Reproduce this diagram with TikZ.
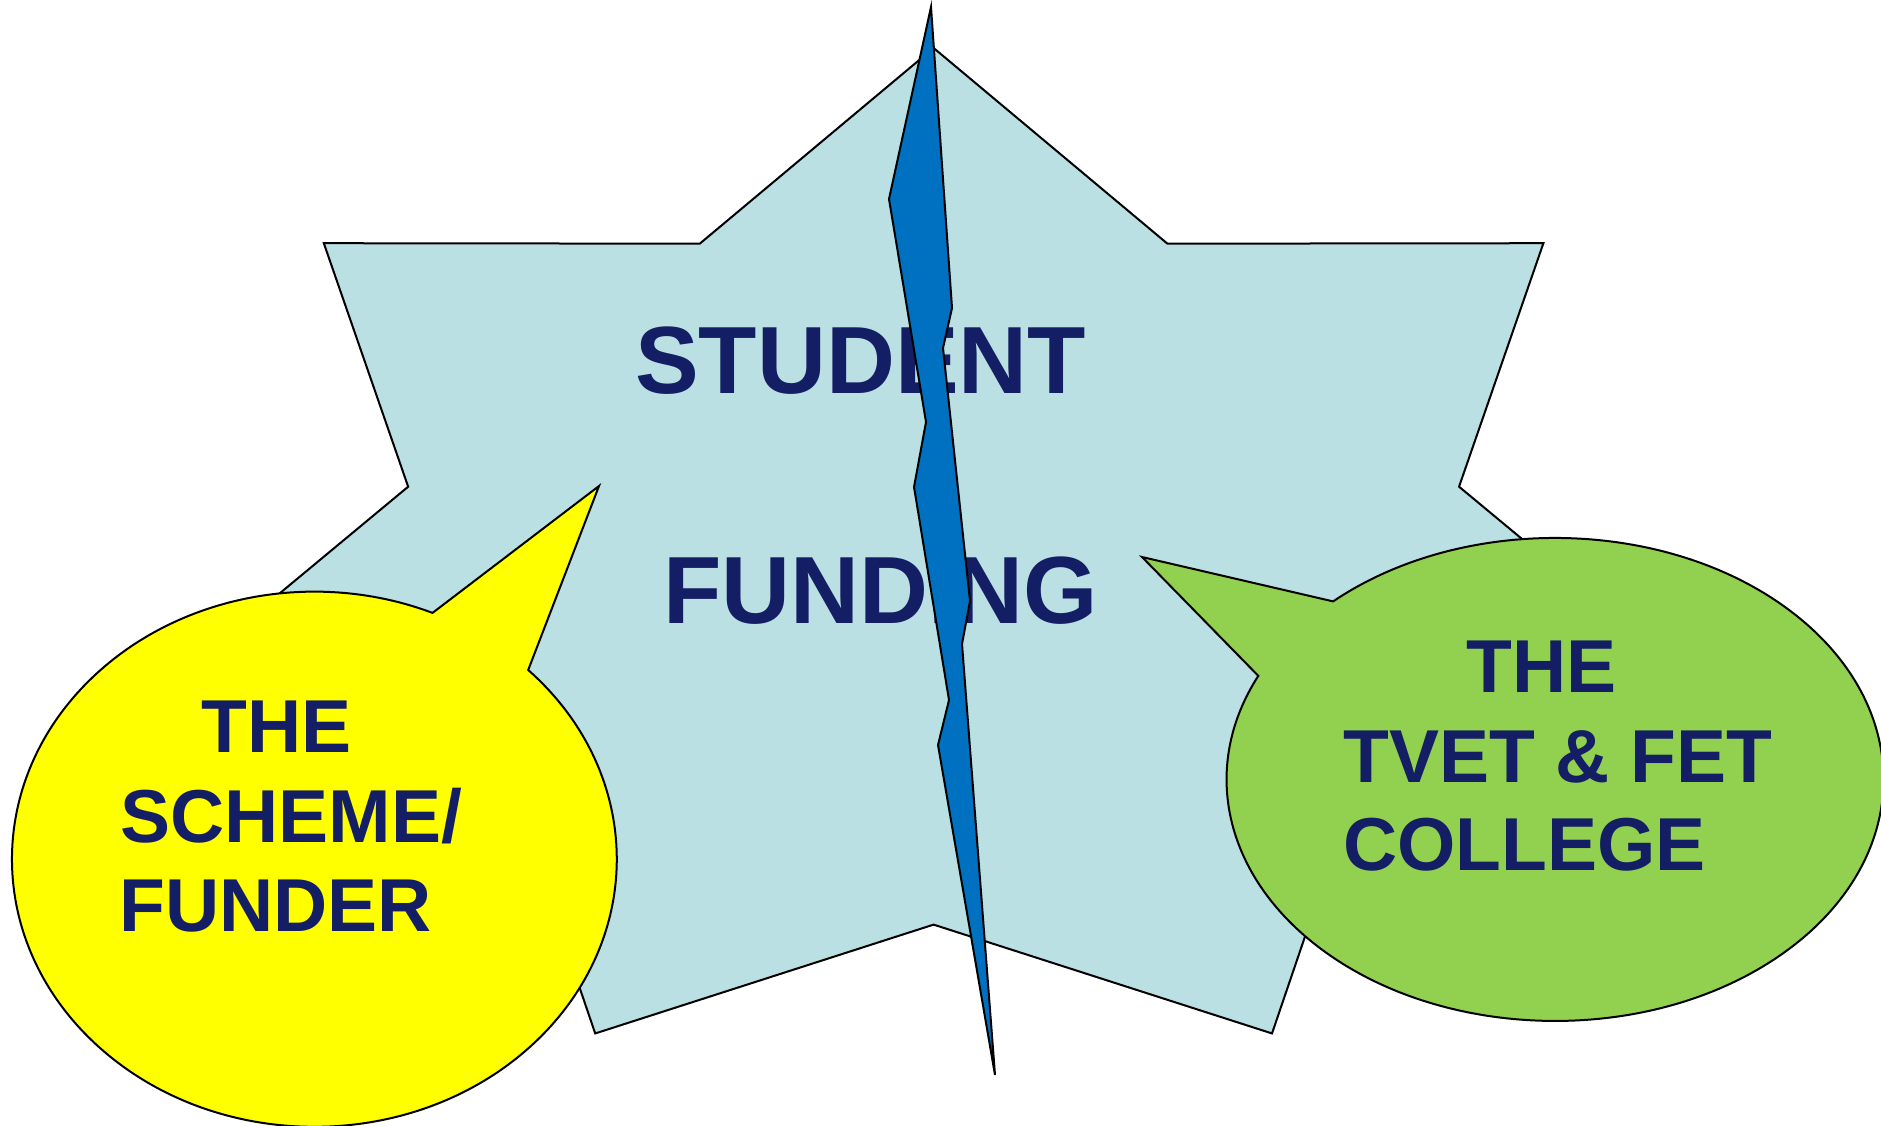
\documentclass[tikz,border=0pt]{standalone}
\usepackage{fontspec}
\setmainfont{Liberation Sans}
\definecolor{starfill}{HTML}{BAE0E3}
\definecolor{boltblue}{HTML}{0070C0}
\definecolor{navytext}{HTML}{141E64}
\definecolor{bubyellow}{HTML}{FFFF00}
\definecolor{bubgreen}{HTML}{92D050}
\tikzset{
  outline/.style={draw=black, line width=2pt, line join=miter},
  bigtext/.style={text=navytext, inner sep=0pt, anchor=base west, font=\fontsize{95.5}{100}\selectfont\bfseries},
  bubtext/.style={text=navytext, inner sep=0pt, anchor=base west, font=\fontsize{75}{80}\selectfont\bfseries},
}
\begin{document}
\begin{tikzpicture}[x=1pt, y=-1pt]
\useasboundingbox (0,0) rectangle (1881,1126);
\clip (0,0) rectangle (1881,1126);
\fill[white] (0,0) rectangle (1881,1126);
% seven-pointed star
\foreach \i [evaluate=\i as \r using {1-0.309*mod(\i,2)}, evaluate=\i as \a using {\i*360/14}] in {0,...,13} {
  \coordinate (s\i) at ({933.6+\r*780*sin(\a)},{566.4-\r*518.4*cos(\a)});
}
\draw[outline, fill=starfill] (s0) \foreach \i in {1,...,13}{ -- (s\i) } -- cycle;
% centre text
\node[bigtext] (student) at (635,393) {STUDENT};
\node[bigtext] (funding) at (663,623) {FUNDING};
% lightning bolt
\draw[outline, fill=boltblue] (931,7) -- (889,199) -- (926,422) -- (914,487) -- (949,700) -- (938,745) -- (995,1075)
  -- (962,644) -- (970,601) -- (943,348) -- (952,308) -- cycle;
% yellow bubble
\coordinate (ytip) at (599,486);
\draw[outline, fill=bubyellow] (528.2,670.0) arc[start angle=-45, end angle=293, x radius=302.4, y radius=267.6] -- (ytip) -- cycle;
\node[bubtext] (the1) at (201,752) {THE};
\node[bubtext] (scheme) at (120,842) {SCHEME/};
\node[bubtext] (funder) at (119,931) {FUNDER};
% green bubble
\coordinate (gtip) at (1142,557);
\draw[outline, fill=bubgreen] (1333.1,601.4) arc[start angle=-132.5, end angle=205.4, x radius=328.5, y radius=241.5] -- (gtip) -- cycle;
\node[bubtext] (the2) at (1466,692) {THE};
\node[bubtext] (tvet) at (1343,782) {TVET \& FET};
\node[bubtext] (college) at (1343,870) {COLLEGE};
\end{tikzpicture}
\end{document}
